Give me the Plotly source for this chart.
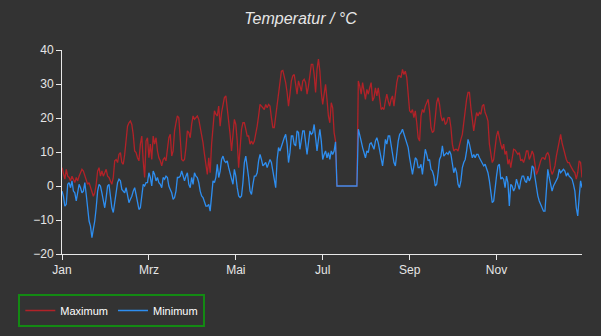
import plotly.graph_objects as go

# Daily maximum / minimum temperatures (°C), day 0 = 1 January, 366 days
MAX_TEMP = [
    5.4, 3.4, 2.0, 4.9, 2.9, 2.5, 1.5, 2.9, 2.0, 1.0,
    2.5, 1.5, 2.9, 3.9, 4.9, 4.4, 2.9, 1.5, 0.5, 1.0,
    -0.5, -1.5, -3.0, -2.0, 0.5, 4.4, 5.4, 2.9, 4.4, 2.9,
    3.9, 4.9, 2.9, 2.5, 1.5, 0.5, 2.5, 7.4, 7.8, 6.9,
    9.3, 9.8, 6.9, 6.4, 9.3, 13.2, 17.6, 18.6, 19.1, 18.1,
    15.2, 10.3, 9.8, 8.3, 7.4, 12.3, 14.7, 7.4, 2.5, 13.2,
    14.2, 8.3, 12.3, 7.8, 14.7, 12.3, 14.2, 10.3, 8.3, 7.4,
    5.9, 7.8, 8.3, 7.4, 11.3, 14.2, 15.2, 8.8, 10.3, 16.2,
    18.6, 20.6, 20.1, 14.2, 7.8, 7.4, 7.8, 11.3, 16.2, 15.7,
    14.2, 18.1, 20.6, 19.6, 20.1, 20.6, 19.6, 17.6, 14.7, 12.7,
    9.3, 5.4, 3.4, 8.3, 3.9, 12.3, 17.6, 22.1, 21.1, 20.6,
    23.5, 17.6, 21.6, 24.5, 26.0, 26.5, 23.0, 18.1, 15.2, 10.3,
    16.2, 19.6, 18.1, 13.2, 5.4, 12.3, 16.7, 18.6, 18.6, 16.7,
    14.7, 14.7, 12.3, 13.2, 12.3, 13.2, 15.2, 17.6, 20.6, 24.0,
    23.5, 23.0, 22.5, 24.0, 23.0, 24.0, 23.5, 20.1, 17.2, 17.2,
    20.6, 25.0, 27.9, 31.4, 33.8, 34.0, 32.4, 30.4, 27.5, 23.5,
    27.0, 30.9, 32.4, 32.8, 29.9, 27.0, 30.9, 29.4, 27.9, 30.9,
    31.4, 30.4, 27.0, 29.4, 33.3, 35.8, 35.8, 32.8, 27.5, 34.3,
    37.3, 33.8, 27.5, 24.0, 27.0, 29.9, 25.5, 20.6, 18.6, 24.5,
    23.0, 15.7, 13.2, 0, 0, 0, 0, 0, 0, 0,
    0, 0, 0, 0, 0, 0, 0, 0, 30.9, 29.4,
    27.0, 30.4, 27.9, 25.5, 28.4, 27.0, 28.9, 30.4, 25.0, 26.0,
    28.9, 26.5, 28.9, 26.0, 22.5, 23.0, 22.5, 25.0, 27.0, 25.0,
    23.5, 25.5, 26.5, 23.5, 27.9, 30.4, 32.4, 32.4, 31.9, 34.3,
    32.8, 33.8, 31.9, 27.0, 22.1, 21.6, 22.5, 20.1, 22.1, 18.6,
    14.2, 13.2, 20.6, 22.5, 21.6, 23.5, 24.5, 25.5, 22.1, 17.2,
    15.7, 16.2, 20.1, 24.5, 26.0, 24.0, 20.6, 19.1, 20.1, 18.1,
    18.6, 20.1, 20.1, 17.2, 12.3, 10.3, 10.8, 10.8, 10.3, 12.3,
    13.7, 15.2, 18.6, 22.5, 25.5, 27.5, 27.5, 23.0, 18.6, 16.2,
    19.1, 21.6, 20.6, 21.6, 21.1, 23.5, 24.0, 21.6, 20.6, 19.1,
    12.3, 9.3, 6.9, 7.8, 11.8, 14.7, 16.2, 13.7, 12.3, 10.8,
    12.3, 9.3, 10.3, 6.4, 7.8, 5.4, 8.8, 10.8, 10.6, 9.8,
    9.3, 9.8, 7.4, 7.8, 6.9, 8.3, 10.3, 10.3, 7.8, 8.8,
    10.3, 9.3, 5.4, 3.4, 4.4, 6.4, 7.4, 8.3, 8.3, 7.8,
    9.3, 9.8, 8.8, 4.9, 3.4, 4.4, 5.9, 8.8, 11.3, 13.7,
    15.2, 12.7, 10.8, 9.8, 7.8, 6.9, 6.9, 5.9, 4.9, 4.4,
    3.9, 2.0, 3.9, 7.4, 6.9, 2.5,
]

MIN_TEMP = [
    -1.5, -3.0, -5.9, -5.4, 0.5, 1.0, -0.5, 1.5, -1.5, -2.0,
    -4.4, -1.5, 0.5, -0.5, -2.0, -1.5, 1.0, -2.5, -7.4, -10.3,
    -11.8, -15.2, -12.7, -10.3, -6.4, -1.5, 0.5, 0.0, -2.0, -4.4,
    -6.4, -3.4, 0.0, 0.5, -2.5, -6.4, -7.8, -4.9, -1.5, 1.0,
    2.0, 1.5, -1.0, -1.5, -2.0, -0.5, -3.0, -4.9, -3.9, -3.0,
    -1.5, -0.5, -2.5, -5.4, -6.9, -6.4, -2.5, 0.5, 0.0, 1.0,
    1.0, 3.9, 2.5, 0.0, 4.4, 3.4, 1.5, 2.5, 1.0, 0.5,
    -0.5, 2.5, 2.0, 2.9, 2.5, 0.0, -1.0, -2.0, -3.9, -3.4,
    -1.5, 2.5, 2.5, 2.9, 4.4, 2.9, 1.5, 2.9, 3.9, 0.5,
    -0.5, 2.5, 0.5, 3.9, 2.9, 2.5, 1.0, -1.5, -2.9, -3.4,
    -4.4, -5.9, -5.9, -5.4, -7.4, -1.5, 1.5, 1.0, 2.5, 6.4,
    2.5, 4.4, 7.8, 8.8, 7.4, 6.9, 7.4, 5.4, 3.9, 2.5,
    0.5, 4.9, 2.9, -0.5, -2.9, -3.4, -2.9, 1.0, 6.9, 8.8,
    5.9, 2.5, -1.5, -2.5, 0.5, 2.9, 2.9, 3.9, 7.4, 9.3,
    7.8, 5.9, 6.4, 6.9, 5.4, 6.4, 7.8, 6.9, 3.9, 1.5,
    -0.5, 7.8, 11.3, 10.3, 11.8, 13.2, 14.2, 15.2, 12.3, 6.9,
    9.8, 14.7, 14.7, 12.3, 11.8, 16.2, 15.7, 10.8, 13.7, 16.2,
    16.2, 12.3, 9.3, 12.7, 16.2, 15.2, 15.7, 18.1, 14.2, 10.3,
    13.7, 16.7, 13.2, 7.8, 9.3, 10.3, 8.3, 9.8, 7.8, 10.3,
    9.3, 10.3, 13.0, 0, 0, 0, 0, 0, 0, 0,
    0, 0, 0, 0, 0, 0, 0, 0, 16.7, 15.2,
    13.2, 11.3, 9.3, 8.3, 10.3, 9.8, 12.3, 12.7, 11.8, 10.8,
    13.2, 14.2, 12.7, 10.3, 7.8, 5.9, 9.3, 13.7, 12.3, 14.7,
    14.7, 11.8, 9.8, 6.9, 5.9, 9.8, 13.2, 15.2, 15.7, 16.7,
    15.2, 14.2, 12.7, 11.3, 8.3, 5.9, 3.4, 5.9, 8.3, 7.8,
    5.4, 5.4, 6.4, 3.4, 7.4, 10.8, 9.3, 7.4, 7.8, 4.9,
    4.4, 2.9, 0.0, 0.5, 3.9, 7.8, 8.8, 11.8, 8.8, 9.3,
    9.8, 9.3, 10.3, 9.3, 6.9, 3.9, 5.4, 3.9, 0.5, -0.5,
    1.5, 5.4, 6.9, 7.8, 10.3, 13.7, 12.3, 9.8, 8.3, 9.3,
    8.3, 9.3, 9.3, 8.3, 7.4, 6.9, 5.9, 6.4, 5.4, 3.9,
    1.5, -2.5, -4.9, -4.4, -1.5, 2.9, 5.9, 6.4, 2.0, 2.5,
    2.0, -0.5, 2.9, 1.0, -5.9, 0.5, 0.0, -1.5, -0.5, 2.0,
    0.5, -1.0, 1.5, 2.9, 2.9, 1.5, 1.0, 2.9, 1.5, 2.5,
    5.9, 5.4, 2.5, -1.0, -2.9, -4.4, -5.4, -6.4, -7.4, -7.4,
    -0.5, 4.9, 2.5, 0.5, -1.5, 0.0, 1.0, 1.5, 2.5, 4.9,
    3.9, 4.4, 4.9, 4.4, 2.9, 3.9, 2.9, 2.5, 2.0, 0.5,
    -1.5, -6.4, -8.8, -3.4, 1.5, -0.5,
]

DAYS = list(range(len(MAX_TEMP)))

TICK_DAYS = [0, 61, 122, 183, 244, 305]
TICK_LABELS = ["Jan", "Mrz", "Mai", "Jul", "Sep", "Nov"]

BG = "#333333"
AXIS_COLOR = "#e8e8e8"
TEXT_COLOR = "#e6e6e6"
FONT = "Liberation Sans, Arial, sans-serif"

fig = go.Figure()
fig.add_trace(go.Scatter(
    x=DAYS, y=MAX_TEMP, mode="lines", name="Maximum",
    line=dict(color="#B22228", width=1.3),
))
fig.add_trace(go.Scatter(
    x=DAYS, y=MIN_TEMP, mode="lines", name="Minimum",
    line=dict(color="#2E8EF0", width=1.3),
))

axis_common = dict(
    showline=True, linecolor=AXIS_COLOR, linewidth=1,
    ticks="outside", ticklen=5, tickcolor=AXIS_COLOR, tickwidth=1,
    showgrid=False, zeroline=False,
    tickfont=dict(family=FONT, size=12, color=TEXT_COLOR),
)

fig.update_layout(
    width=601, height=336,
    paper_bgcolor=BG, plot_bgcolor=BG,
    margin=dict(l=62, r=19, t=50, b=82, autoexpand=False),
    title=dict(
        text="<i>Temperatur / °C</i>",
        x=0.5, xref="container", xanchor="center",
        y=1 - 18 / 336, yref="container", yanchor="middle",
        font=dict(family=FONT, size=16, color=TEXT_COLOR),
    ),
    xaxis=dict(range=[0, 365], tickvals=TICK_DAYS, ticktext=TICK_LABELS, **axis_common),
    yaxis=dict(range=[-20, 40], tickvals=[-20, -10, 0, 10, 20, 30, 40], **axis_common),
    showlegend=True,
    legend=dict(
        orientation="h",
        x=-0.084, xanchor="left",
        y=-0.196, yanchor="top",
        bordercolor="#138a13", borderwidth=2,
        bgcolor="rgba(0,0,0,0)",
        font=dict(family=FONT, size=11, color="#ffffff"),
    ),
)

fig.write_html("out.html")
